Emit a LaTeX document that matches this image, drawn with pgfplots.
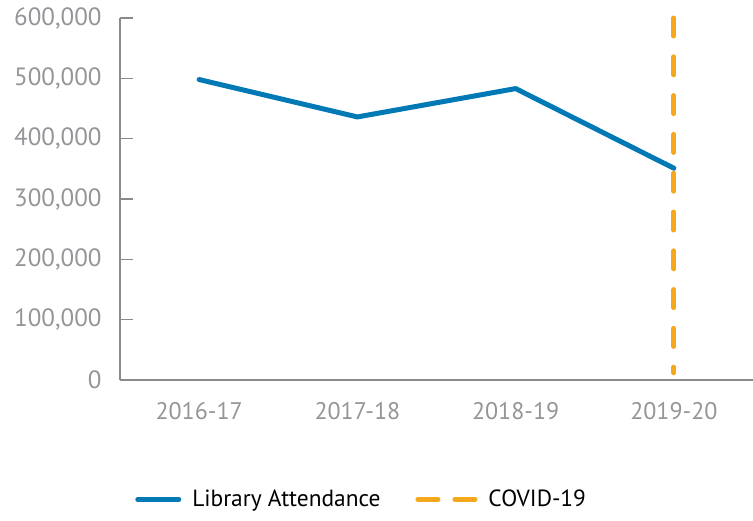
\documentclass[border=0pt]{standalone}
\usepackage{fontspec}
\setmainfont{PT Sans}
\usepackage{pgfplots}
\pgfplotsset{compat=1.18}
\definecolor{attblue}{HTML}{0079B5}
\definecolor{covidorange}{HTML}{F5A81C}
\definecolor{ticktext}{HTML}{939598}
\definecolor{axisgray}{HTML}{8A8A8A}

\begin{document}
\begin{tikzpicture}
\path[use as bounding box] (-60pt,-70pt) rectangle (316.5pt,190pt);
\begin{axis}[
    width=316.5pt, height=181pt, scale only axis,
    xmin=0, xmax=4,
    ymin=0, ymax=600000,
    axis x line=bottom, axis y line=left,
    axis line style={-, draw=axisgray, line width=0.6pt},
    tick style={draw=axisgray, line width=0.6pt},
    tick align=inside,
    major tick length=6.5pt,
    minor tick length=5pt,
    xtick={0.5,1.5,2.5,3.5},
    xticklabels={2016-17,2017-18,2018-19,2019-20},
    x tick style={draw=none},
    minor xtick={1,2,3},
    ytick={0,100000,200000,300000,400000,500000,600000},
    yticklabels={0,{100,000},{200,000},{300,000},{400,000},{500,000},{600,000}},
    scaled y ticks=false,
    tick label style={font=\fontsize{12.5}{14}\selectfont, text=ticktext},
    yticklabel style={inner sep=0pt, xshift=-9pt},
    xticklabel style={inner sep=0pt, anchor=north, yshift=-11pt, font=\fontsize{12}{14}\selectfont},
    clip=false,
    legend columns=2,
    legend style={draw=none, fill=none, at={(0.014,-0.33)}, anchor=west,
        font=\fontsize{11.7}{14}\selectfont, text=black,
        nodes={inner sep=0pt},
        /tikz/every odd column/.style={column sep=5.5pt},
        /tikz/every even column/.style={column sep=17.5pt}},
]
\addplot[attblue, line width=2.5pt, line join=round, line cap=round,
    legend image code/.code={\draw[attblue, line width=2.5pt, line cap=round] (1.25pt,0pt) -- (21.75pt,0pt);}]
    coordinates {(0.5,498000) (1.5,436000) (2.5,483000) (3.5,351000)};
\addlegendentry{Library Attendance}
\addplot[covidorange, line width=2.5pt, line cap=round,
    dash pattern=on 9pt off 10.4pt,
    legend image code/.code={\draw[covidorange, line width=2.5pt, line cap=round, dash pattern=on 10pt off 8.5pt] (1.25pt,0pt) -- (29.75pt,0pt);}]
    coordinates {(3.5,600000) (3.5,12000)};
\addlegendentry{COVID-19}
\end{axis}
\end{tikzpicture}
\end{document}
